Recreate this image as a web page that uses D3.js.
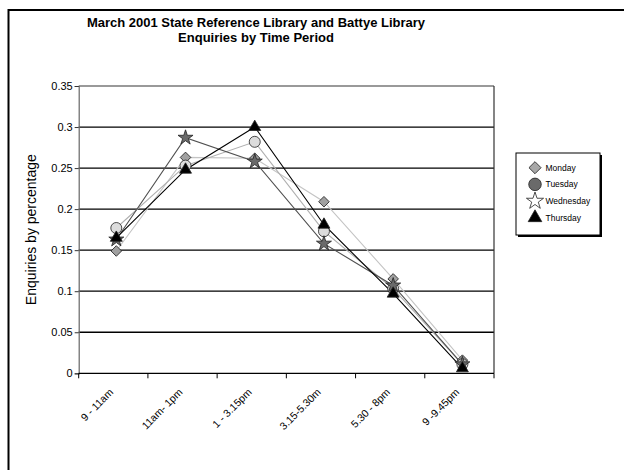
<!DOCTYPE html>
<html><head><meta charset="utf-8">
<script src="https://cdn.jsdelivr.net/npm/d3@7"></script>
<style>body{margin:0;background:#fff}svg{display:block}text{font-family:"Liberation Sans",Arial,sans-serif}</style>
</head><body><svg id="c" width="624" height="470"></svg>
<script>
const categories = ["9 - 11am","11am- 1pm","1 - 3.15pm","3.15-5.30m","5.30 - 8pm","9 -9.45pm"];
const monday    = [0.149,0.263,0.262,0.209,0.115,0.016];
const tuesday   = [0.177,0.253,0.282,0.173,0.103,0.011];
const wednesday = [0.163,0.287,0.258,0.158,0.107,0.011];
const thursday  = [0.165,0.248,0.300,0.181,0.097,0.006];
const yTicks = [0,0.05,0.1,0.15,0.2,0.25,0.3,0.35];
const seriesNames = ["Monday","Tuesday","Wednesday","Thursday"];

const svg = d3.select("#c");
// outer frame
svg.append("rect").attr("x",8.5).attr("y",10).attr("width",640).attr("height",480)
  .attr("fill","none").attr("stroke","#000").attr("stroke-width",2);

const L=78.7,R=494,T=86,B=373.3;
const x = d3.scaleBand().domain(categories).range([L,R]).padding(0);
const y = d3.scaleLinear().domain([0,0.35]).range([B,T]);

// gridlines
svg.append("g").selectAll("line").data(yTicks.filter(d=>d>0)).join("line")
  .attr("x1",L).attr("x2",R).attr("y1",d=>y(d)).attr("y2",d=>y(d))
  .attr("stroke",d=>d===0.35?"#777":"#000").attr("stroke-width",1.3);
// right border
svg.append("line").attr("x1",R).attr("x2",R).attr("y1",T).attr("y2",B).attr("stroke","#333").attr("stroke-width",1.2);

// y axis
const ya = svg.append("g").attr("transform",`translate(${L},0)`)
  .call(d3.axisLeft(y).tickValues(yTicks).tickSize(4).tickFormat(d=>String(+d.toFixed(2))));
ya.select(".domain").attr("stroke","#666").attr("stroke-width",1.2);
ya.selectAll(".tick line").attr("stroke","#333");
ya.selectAll("text").attr("font-size",11).attr("fill","#000").attr("x",-6);

// x axis
svg.append("line").attr("x1",L).attr("x2",R).attr("y1",B).attr("y2",B).attr("stroke","#000").attr("stroke-width",1.3);
const bounds = categories.map(c=>x(c)).concat([R]);
svg.append("g").selectAll("line").data(bounds).join("line")
  .attr("x1",d=>d).attr("x2",d=>d).attr("y1",B).attr("y2",B+5).attr("stroke","#000");
svg.append("g").selectAll("text").data(categories).join("text")
  .attr("transform",d=>`translate(${x(d)+x.bandwidth()/2-2},${B+17}) rotate(-45)`)
  .attr("text-anchor","end").attr("font-size",10.5).attr("dy","0.35em").text(d=>d);

// axis title
svg.append("text").attr("transform",`translate(36,${(T+B)/2}) rotate(-90)`)
  .attr("text-anchor","middle").attr("font-size",14).text("Enquiries by percentage");

// title
const title = svg.append("text").attr("x",256).attr("y",26.5).attr("text-anchor","middle")
  .attr("font-size",13).attr("font-weight","bold");
title.append("tspan").attr("x",256).text("March 2001 State Reference Library and Battye Library");
title.append("tspan").attr("x",256).attr("dy",15).text("Enquiries by Time Period");

// series
const shapes = {
  Monday:{sym:d3.symbolSquare,size:56,rot:45},
  Tuesday:{sym:d3.symbolCircle,size:95,rot:0},
  Wednesday:{sym:d3.symbolStar,size:70,rot:0},
  Thursday:{sym:d3.symbolTriangle,size:62,rot:0}
};
const series = [
  {name:"Monday",values:monday,line:"#c4c4c4",fill:"#a0a0a0",lfill:"#a8a8a8"},
  {name:"Tuesday",values:tuesday,line:"#b0b0b0",fill:"#dcdcdc",lfill:"#6a6a6a"},
  {name:"Wednesday",values:wednesday,line:"#505050",fill:"#6a6a6a",lfill:"#ffffff"},
  {name:"Thursday",values:thursday,line:"#000",fill:"#000",lfill:"#000"}
];
const cx = c=>x(c)+x.bandwidth()/2+3;
const line = d3.line().x((d,i)=>cx(categories[i])).y(d=>y(d));
series.forEach(s=>{
  svg.append("path").attr("d",line(s.values)).attr("fill","none").attr("stroke",s.line).attr("stroke-width",1.1);
});
series.forEach(s=>{
  const sh = shapes[s.name];
  svg.append("g").selectAll("path").data(s.values).join("path")
    .attr("transform",(d,i)=>`translate(${cx(categories[i])},${y(d)}) rotate(${sh.rot})`)
    .attr("d",d3.symbol(sh.sym,sh.size)).attr("fill",s.fill).attr("stroke","#222").attr("stroke-width",0.8);
});

// legend
const lg = svg.append("g");
lg.append("rect").attr("x",518).attr("y",155).attr("width",84).attr("height",82).attr("fill","#000");
lg.append("rect").attr("x",516).attr("y",153).attr("width",84).attr("height",82).attr("fill","#fff").attr("stroke","#000").attr("stroke-width",1);
const ly = d3.scalePoint().domain(seriesNames).range([167.7,217.7]);
series.forEach(s=>{
  const sh = shapes[s.name];
  lg.append("path").attr("transform",`translate(535,${ly(s.name)}) rotate(${sh.rot})`)
    .attr("d",d3.symbol(sh.sym,sh.size*1.3)).attr("fill",s.lfill).attr("stroke","#222").attr("stroke-width",0.8);
  lg.append("text").attr("x",545.5).attr("y",ly(s.name)).attr("dy","0.35em").attr("font-size",8.5).text(s.name);
});
</script></body></html>
